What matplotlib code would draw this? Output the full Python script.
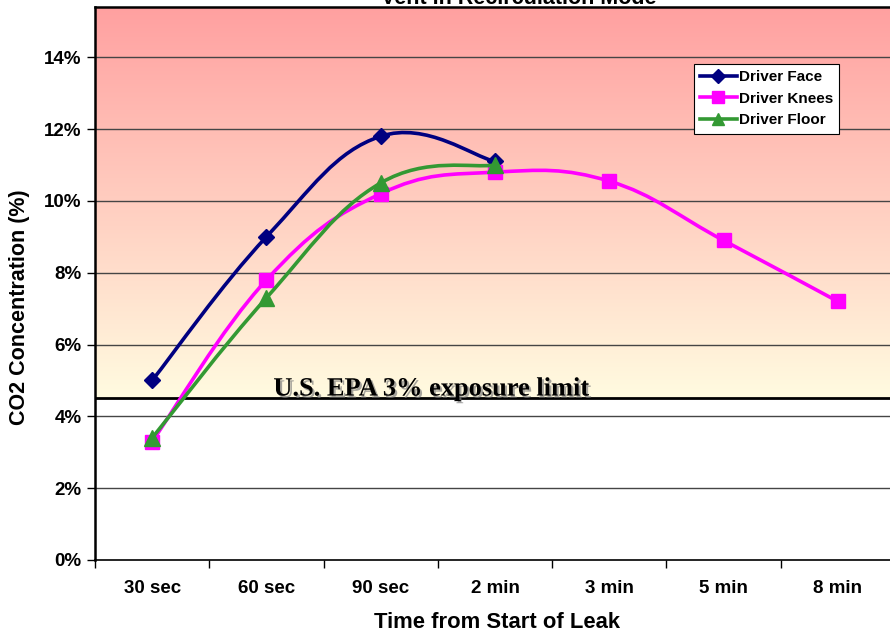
import numpy as np
import matplotlib
matplotlib.use("Agg")
import matplotlib.pyplot as plt
from matplotlib.path import Path
from matplotlib.patches import PathPatch
import matplotlib.patheffects as pe

# ---------------- data ----------------
categories = ["30 sec", "60 sec", "90 sec", "2 min", "3 min", "5 min", "8 min"]
face = [5.0, 9.0, 11.8, 11.1]
knees = [3.3, 7.8, 10.2, 10.8, 10.55, 8.9, 7.2]
floor_ = [3.4, 7.3, 10.5, 11.0]
series_names = ["Driver Face", "Driver Knees", "Driver Floor"]
yticks = [0, 2, 4, 6, 8, 10, 12, 14]
ytick_labels = ["0%", "2%", "4%", "6%", "8%", "10%", "12%", "14%"]
limit_level = 4.5
limit_text = "U.S. EPA 3% exposure limit"
title = "Vent in Recirculation Mode"
xlabel = "Time from Start of Leak"
ylabel = "CO2 Concentration (%)"

W, H = 890, 634
fig = plt.figure(figsize=(W / 100, H / 100), dpi=100)
ax = fig.add_axes([95 / W, 74 / H, 800 / W, 553 / H])
ax.set_xlim(-0.5, len(categories) - 0.5)
ax.set_ylim(0, 15.4)
ax.set_facecolor("white")

# gradient background above the limit
top_c = np.array([255, 160, 160]) / 255
bot_c = np.array([255, 251, 224]) / 255
n = 256
t = np.linspace(0, 1, n)[:, None]
grad = (top_c[None, :] * (1 - t) + bot_c[None, :] * t)
grad = np.repeat(grad[:, None, :], 2, axis=1)
ax.imshow(grad, extent=(-0.5, len(categories) - 0.5, limit_level, 15.4),
          aspect="auto", zorder=0, interpolation="bilinear")

# gridlines
for yv in yticks[1:]:
    ax.axhline(yv, color="#454545", lw=1.0, zorder=1)

ax.axhline(limit_level, color="black", lw=2.0, zorder=2)
ax.text(2.44, 4.58, limit_text, family="Liberation Serif", fontweight="bold",
        fontsize=19, ha="center", va="baseline", zorder=3,
        path_effects=[pe.SimplePatchShadow(offset=(1.5, -1.5), shadow_rgbFace="gray", alpha=0.7),
                      pe.Normal()])


def smooth_path(ys, tension=0.2):
    xs = np.arange(len(ys), dtype=float)
    pts = np.column_stack([xs, np.asarray(ys, dtype=float)])
    m = len(pts)
    verts = [pts[0]]
    codes = [Path.MOVETO]
    for i in range(m - 1):
        p0 = pts[i - 1] if i > 0 else pts[i]
        p1 = pts[i]
        p2 = pts[i + 1]
        p3 = pts[i + 2] if i + 2 < m else pts[i + 1]
        c1 = p1 + (p2 - p0) * tension
        c2 = p2 - (p3 - p1) * tension
        verts += [c1, c2, p2]
        codes += [Path.CURVE4] * 3
    return Path(verts, codes)


styles = [
    (face, "#000080", "D", 8.5),
    (knees, "#FF00FF", "s", 10),
    (floor_, "#339933", "^", 11),
]
handles = []
for i, (vals, col, mk, ms) in enumerate(styles):
    patch = PathPatch(smooth_path(vals), facecolor="none", edgecolor=col, lw=2.6,
                      zorder=4 + i, capstyle="round", joinstyle="round")
    ax.add_patch(patch)
    ax.plot(range(len(vals)), vals, linestyle="none", marker=mk, ms=ms,
            color=col, zorder=4 + i)
    h, = ax.plot([], [], color=col, lw=2.6, marker=mk, ms=ms * 0.85,
                 label=series_names[i])
    handles.append(h)

leg = ax.legend(handles=handles, loc="upper left",
                bbox_to_anchor=(694 / W, 1 - 64 / H), bbox_transform=fig.transFigure,
                frameon=True, fancybox=False, edgecolor="black", framealpha=1,
                prop={"family": "Liberation Sans", "weight": "bold", "size": 11},
                handlelength=2.4, handletextpad=0.15, borderpad=0.4,
                labelspacing=0.5, borderaxespad=0)
leg.get_frame().set_linewidth(0.8)
leg.set_zorder(10)

# axes ticks
ax.set_yticks(yticks)
ax.set_yticklabels(ytick_labels)
ax.set_xticks(np.arange(-0.5, len(categories) + 0.5, 1.0))
ax.set_xticklabels([])
ax.set_xticks(np.arange(len(categories)), minor=True)
ax.set_xticklabels(categories, minor=True)
ax.tick_params(axis="x", which="major", length=6, width=1, direction="out")
ax.tick_params(axis="x", which="minor", length=0, pad=14.5)
ax.tick_params(axis="y", length=6, width=1, direction="out", pad=3.5)
for lab in ax.get_yticklabels() + ax.get_xticklabels(minor=True):
    lab.set_fontfamily("Liberation Sans")
    lab.set_fontweight("bold")
    lab.set_fontsize(13.5)

for s in ["left", "top", "bottom"]:
    ax.spines[s].set_linewidth(1.8)
    ax.spines[s].set_color("black")
ax.spines["bottom"].set_linewidth(1.2)
ax.spines["right"].set_visible(False)

fig.text(497 / W, 1 - 622 / H, xlabel, family="Liberation Sans", fontweight="bold",
         fontsize=15.8, ha="center", va="center")
fig.text(20 / W, 1 - 307 / H, ylabel, family="Liberation Sans", fontweight="bold",
         fontsize=15.5, ha="center", va="center", rotation=90)
fig.text(519 / W, 1 - 4 / H, title, family="Liberation Sans", fontweight="bold",
         fontsize=15.5, ha="center", va="baseline")

fig.savefig("out.png", dpi=100)
